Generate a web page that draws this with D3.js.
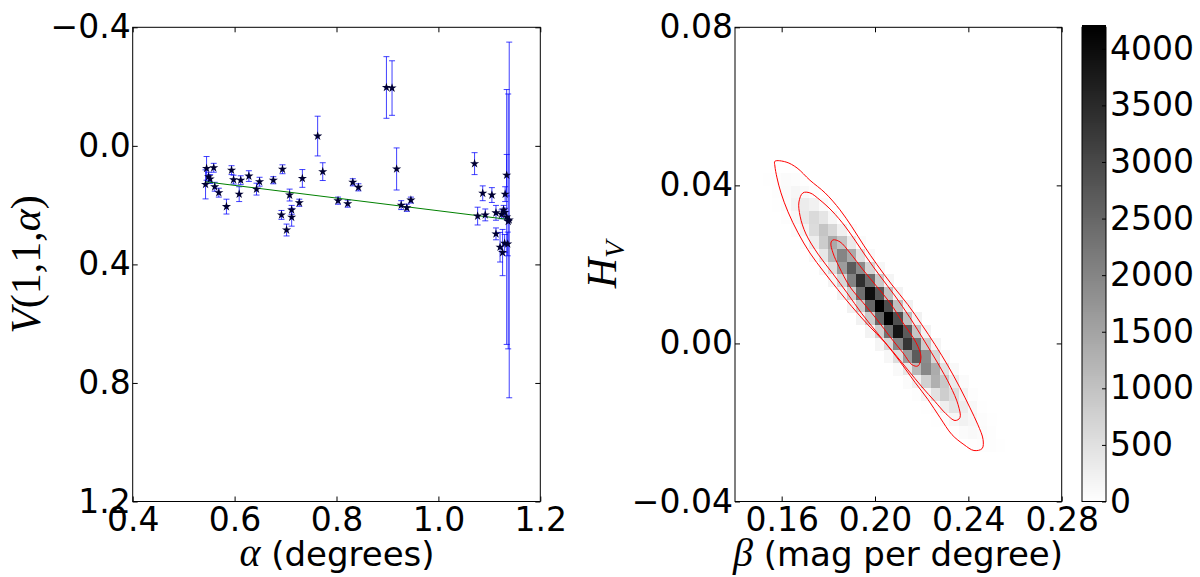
<!DOCTYPE html>
<html>
<head>
<meta charset="utf-8">
<script src="https://cdn.jsdelivr.net/npm/d3@7"></script>
<style>
  body { margin: 0; background: #fff; }
  text { font-family: "DejaVu Sans", sans-serif; fill: #000; }
  .math { font-family: "Liberation Serif", "DejaVu Serif", serif; }
</style>
</head>
<body>
<svg id="chart" width="1200" height="577"></svg>
<script>
// ---- left panel: phase curve points (alpha, reduced magnitude, error) ----
const alphaDeg = [0.545, 0.543, 0.549, 0.552, 0.559, 0.561, 0.569, 0.584, 0.594, 0.598,
                  0.609, 0.612, 0.628, 0.643, 0.649, 0.676, 0.692, 0.694, 0.702, 0.708,
                  0.712, 0.712, 0.727, 0.733, 0.763, 0.773, 0.803, 0.822, 0.832, 0.843,
                  0.898, 0.909, 0.918, 0.927, 0.938, 0.946, 1.071, 1.077, 1.087, 1.092,
                  1.105, 1.113, 1.113, 1.121, 1.126, 1.124, 1.128, 1.130, 1.131, 1.130,
                  1.134, 1.136, 1.139, 1.134, 1.137];
const vMag = [0.076, 0.130, 0.104, 0.112, 0.074, 0.138, 0.158, 0.205, 0.082, 0.114,
              0.163, 0.116, 0.102, 0.146, 0.121, 0.116, 0.233, 0.079, 0.284, 0.166,
              0.216, 0.241, 0.192, 0.110, -0.033, 0.087, 0.185, 0.195, 0.123, 0.140,
              -0.197, -0.195, 0.078, 0.200, 0.209, 0.183, 0.060, 0.237, 0.160, 0.233,
              0.166, 0.226, 0.297, 0.342, 0.360, 0.231, 0.216, 0.225, 0.163, 0.329,
              0.099, 0.331, 0.250, 0.240, 0.255];
const vErr = [0.040, 0.049, 0.015, 0.015, 0.015, 0.015, 0.015, 0.025, 0.015, 0.015,
              0.025, 0.015, 0.018, 0.020, 0.015, 0.012, 0.015, 0.015, 0.020, 0.020,
              0.015, 0.030, 0.012, 0.030, 0.067, 0.030, 0.012, 0.012, 0.012, 0.012,
              0.104, 0.092, 0.071, 0.015, 0.012, 0.010, 0.037, 0.030, 0.025, 0.020,
              0.025, 0.025, 0.020, 0.050, 0.078, 0.015, 0.015, 0.015, 0.025, 0.030,
              0.070, 0.040, 0.600, 0.430, 0.430];
// linear fit V = a + b * alpha
const fitIntercept = 0.005;
const fitSlope = 0.214;

const leftXTicks = [0.4, 0.6, 0.8, 1.0, 1.2];
const leftYTicks = [-0.4, 0.0, 0.4, 0.8, 1.2];

// ---- right panel: 2D histogram of (beta, H_V) samples ----
const betaBinLo = 0.1519, betaBinW = 0.004;   // first column lower edge, width
const hvBinHi = 0.0527, hvBinH = 0.0032;      // first row upper edge, height
const histRow = [3, 4, 5, 6, 7, 8, 9, 10, 11, 12, 13, 14, 15, 16, 17, 18, 19, 20, 21, 22, 23, 24];
const histFirstCol = [-1, 0, 1, 2, 3, 4, 5, 6, 7, 8, 9, 10, 11, 12, 13, 14, 15, 16, 17, 18, 19, 20];
const histCounts = [
  [3, 12, 36, 60, 42, 15, 3],
  [8, 30, 90, 150, 105, 38, 8],
  [16, 64, 190, 320, 225, 80, 16],
  [30, 120, 360, 600, 420, 150, 30],
  [48, 190, 570, 950, 665, 240, 48],
  [70, 280, 840, 1400, 980, 350, 70],
  [100, 400, 1200, 2000, 1400, 500, 100],
  [135, 540, 1620, 2700, 1890, 675, 135],
  [170, 680, 2040, 3400, 2380, 850, 170],
  [200, 790, 2370, 3950, 2765, 990, 200],
  [210, 840, 2510, 4190, 2930, 1050, 210],
  [210, 830, 2490, 4150, 2900, 1040, 210],
  [190, 770, 2310, 3850, 2700, 960, 190],
  [165, 660, 1980, 3300, 2310, 825, 165],
  [135, 540, 1620, 2700, 1890, 675, 135],
  [100, 390, 1170, 1950, 1365, 490, 100],
  [65, 260, 780, 1300, 910, 325, 65],
  [40, 160, 480, 800, 560, 200, 40],
  [22, 90, 270, 450, 315, 112, 22],
  [11, 44, 132, 220, 154, 55, 11],
  [5, 20, 60, 100, 70, 25, 5],
  [2, 8, 24, 40, 28, 10, 2]
];
const countMax = 4190;

// confidence contours, [beta, H_V]
const contourOuter = [[0.1571,0.0461],[0.1619,0.0459],[0.1666,0.0444],[0.1721,0.0413],[0.1786,0.0381],
  [0.1850,0.0338],[0.1901,0.0295],[0.1953,0.0247],[0.2009,0.0199],[0.2073,0.0148],[0.2141,0.0098],
  [0.2201,0.0047],[0.2257,-0.0003],[0.2313,-0.0057],[0.2364,-0.0112],[0.2407,-0.0163],[0.2441,-0.0206],
  [0.2463,-0.0243],[0.2459,-0.0266],[0.2424,-0.0271],[0.2381,-0.0256],[0.2330,-0.0231],[0.2279,-0.0188],
  [0.2227,-0.0142],[0.2172,-0.0099],[0.2107,-0.0046],[0.2043,0.0002],[0.1970,0.0047],[0.1901,0.0093],
  [0.1841,0.0136],[0.1781,0.0181],[0.1721,0.0229],[0.1670,0.0280],[0.1627,0.0333],[0.1597,0.0381],
  [0.1580,0.0419],[0.1571,0.0449]];
const contourMiddle = [[0.1691,0.0381],[0.1721,0.0381],[0.1764,0.0363],[0.1816,0.0335],[0.1871,0.0297],
  [0.1919,0.0257],[0.1966,0.0216],[0.2021,0.0171],[0.2086,0.0120],[0.2150,0.0065],[0.2214,0.0004],
  [0.2270,-0.0051],[0.2322,-0.0107],[0.2356,-0.0155],[0.2364,-0.0188],[0.2343,-0.0195],[0.2304,-0.0178],
  [0.2257,-0.0147],[0.2201,-0.0110],[0.2141,-0.0067],[0.2077,-0.0021],[0.2013,0.0024],[0.1944,0.0075],
  [0.1880,0.0128],[0.1820,0.0176],[0.1756,0.0226],[0.1704,0.0277],[0.1679,0.0322],[0.1674,0.0358]];
const contourInner = [[0.1820,0.0262],[0.1850,0.0257],[0.1893,0.0229],[0.1949,0.0186],[0.2009,0.0143],
  [0.2064,0.0103],[0.2120,0.0052],[0.2176,0.0002],[0.2197,-0.0034],[0.2184,-0.0057],[0.2159,-0.0054],
  [0.2120,-0.0024],[0.2064,0.0017],[0.2009,0.0060],[0.1949,0.0103],[0.1893,0.0143],[0.1846,0.0194],
  [0.1820,0.0229],[0.1811,0.0254]];

const rightXTicks = [0.16, 0.20, 0.24, 0.28];
const rightYTicks = [-0.04, 0.00, 0.04, 0.08];
const cbarTicks = [0, 500, 1000, 1500, 2000, 2500, 3000, 3500, 4000];

// ---------------------------------------------------------------
const svg = d3.select("#chart");
const FS = 33;
const plotTop = 27.3, plotBottom = 501.5;

function frameAxes(g, x, y, xt, yt, xfmt, yfmt) {
  const h = plotBottom - plotTop;
  const w = x.range()[1] - x.range()[0];
  g.append("g").attr("transform", `translate(0,${plotBottom})`)
    .call(d3.axisBottom(x).tickValues(xt).tickSize(-5).tickPadding(6).tickFormat(xfmt));
  g.append("g").attr("transform", `translate(${x.range()[0]},0)`)
    .call(d3.axisLeft(y).tickValues(yt).tickSize(-5).tickPadding(2).tickFormat(yfmt));
  g.append("g").attr("transform", `translate(0,${plotTop})`)
    .call(d3.axisTop(x).tickValues(xt).tickSize(-5).tickFormat(""));
  g.append("g").attr("transform", `translate(${x.range()[1]},0)`)
    .call(d3.axisRight(y).tickValues(yt).tickSize(-5).tickFormat(""));
  g.selectAll(".domain").remove();
  g.selectAll(".tick line").attr("stroke", "#000").attr("stroke-width", 1);
  g.selectAll(".tick text").attr("font-size", FS).attr("fill", "#000");
  g.append("rect").attr("x", x.range()[0]).attr("y", plotTop).attr("width", w).attr("height", h)
    .attr("fill", "none").attr("stroke", "#000").attr("stroke-width", 1);
}

// ---- left panel ----
const xL = d3.scaleLinear().domain([0.4, 1.2]).range([132.7, 540.3]);
const yL = d3.scaleLinear().domain([-0.4, 1.2]).range([plotTop, plotBottom]);
const gL = svg.append("g");

const pts = alphaDeg.map((a, i) => ({ a, v: vMag[i], e: vErr[i] }));
const eb = gL.append("g").attr("stroke", "#0000ff").attr("stroke-width", 1).attr("stroke-opacity", 0.75);
pts.forEach(p => {
  const cx = xL(p.a), y0 = yL(p.v - p.e), y1 = yL(p.v + p.e);
  eb.append("line").attr("x1", cx).attr("x2", cx).attr("y1", y0).attr("y2", y1);
  eb.append("line").attr("x1", cx - 3).attr("x2", cx + 3).attr("y1", y0).attr("y2", y0);
  eb.append("line").attr("x1", cx - 3).attr("x2", cx + 3).attr("y1", y1).attr("y2", y1);
});

const aExt = d3.extent(alphaDeg);
gL.append("line")
  .attr("x1", xL(aExt[0])).attr("y1", yL(fitIntercept + fitSlope * aExt[0]))
  .attr("x2", xL(aExt[1])).attr("y2", yL(fitIntercept + fitSlope * aExt[1]))
  .attr("stroke", "#008000").attr("stroke-width", 1);

gL.append("g").selectAll("path").data(pts).join("path")
  .attr("d", d3.symbol(d3.symbolStar).size(26))
  .attr("transform", d => `translate(${xL(d.a)},${yL(d.v)})`)
  .attr("fill", "#000033");

frameAxes(gL, xL, yL, leftXTicks, leftYTicks, d3.format(".1f"), d3.format(".1f"));

// ---- right panel ----
const xR = d3.scaleLinear().domain([0.14, 0.28]).range([735, 1061.7]);
const yR = d3.scaleLinear().domain([-0.04, 0.08]).range([plotBottom, plotTop]);
const grey = d3.scaleLinear().domain([0, countMax]).range(["#ffffff", "#000000"]).clamp(true);
const gR = svg.append("g");

const cells = [];
histRow.forEach((r, i) => {
  histCounts[i].forEach((c, j) => {
    if (c <= 0) return;
    const col = histFirstCol[i] + j;
    const b0 = betaBinLo + col * betaBinW;
    const h1 = hvBinHi - r * hvBinH;
    cells.push({ b0, b1: b0 + betaBinW, h1, h0: h1 - hvBinH, c });
  });
});
gR.append("g").attr("shape-rendering", "crispEdges")
  .selectAll("rect").data(cells).join("rect")
  .attr("x", d => xR(d.b0)).attr("y", d => yR(d.h1))
  .attr("width", d => xR(d.b1) - xR(d.b0) + 0.5)
  .attr("height", d => yR(d.h0) - yR(d.h1) + 0.5)
  .attr("fill", d => grey(d.c));

const cline = d3.line().x(d => xR(d[0])).y(d => yR(d[1])).curve(d3.curveCatmullRomClosed.alpha(0.5));
[contourOuter, contourMiddle, contourInner].forEach(c => {
  gR.append("path").attr("d", cline(c)).attr("fill", "none")
    .attr("stroke", "#ff0000").attr("stroke-width", 1);
});

frameAxes(gR, xR, yR, rightXTicks, rightYTicks, d3.format(".2f"), d3.format(".2f"));

// ---- colour bar ----
const cb = { x0: 1082, x1: 1106 };
const yC = d3.scaleLinear().domain([0, countMax]).range([plotBottom, plotTop]);
const gC = svg.append("g");
const step = countMax / 240;
const bands = d3.range(0, countMax, step);
gC.append("g").attr("shape-rendering", "crispEdges").selectAll("rect").data(bands).join("rect")
  .attr("x", cb.x0).attr("width", cb.x1 - cb.x0)
  .attr("y", d => yC(d + step))
  .attr("height", d => yC(d) - yC(d + step) + 0.6)
  .attr("fill", d => grey(d + step / 2));
gC.append("rect").attr("x", cb.x0).attr("y", plotTop).attr("width", cb.x1 - cb.x0)
  .attr("height", plotBottom - plotTop).attr("fill", "none").attr("stroke", "#000").attr("stroke-width", 1);
const cax = gC.append("g").attr("transform", `translate(${cb.x1},0)`)
  .call(d3.axisRight(yC).tickValues(cbarTicks).tickSize(-4).tickPadding(4).tickFormat(d3.format("d")));
cax.select(".domain").remove();
cax.selectAll(".tick line").attr("stroke", "#000");
cax.selectAll(".tick text").attr("font-size", FS).attr("fill", "#000");

// ---- axis titles ----
const t1 = svg.append("text").attr("x", 337).attr("y", 566).attr("text-anchor", "middle").attr("font-size", 34);
t1.append("tspan").attr("class", "math").attr("font-style", "italic").attr("font-size", 40).text("α");
t1.append("tspan").text(" (degrees)");

const t2 = svg.append("text").attr("x", 898).attr("y", 566).attr("text-anchor", "middle").attr("font-size", 34);
t2.append("tspan").attr("class", "math").attr("font-style", "italic").attr("font-size", 40).text("β");
t2.append("tspan").text(" (mag per degree)");

const t3 = svg.append("text").attr("class", "math").attr("transform", "translate(40,264.5) rotate(-90)")
  .attr("text-anchor", "middle").attr("font-size", 42);
t3.append("tspan").attr("font-style", "italic").text("V");
t3.append("tspan").text("(1,1,");
t3.append("tspan").attr("font-style", "italic").text("α");
t3.append("tspan").text(")");

const t4 = svg.append("text").attr("class", "math").attr("transform", "translate(616,264.5) rotate(-90)")
  .attr("text-anchor", "middle").attr("font-size", 42).attr("font-style", "italic");
t4.append("tspan").text("H");
t4.append("tspan").attr("font-size", 28).attr("dy", 8).text("V");
</script>
</body>
</html>
